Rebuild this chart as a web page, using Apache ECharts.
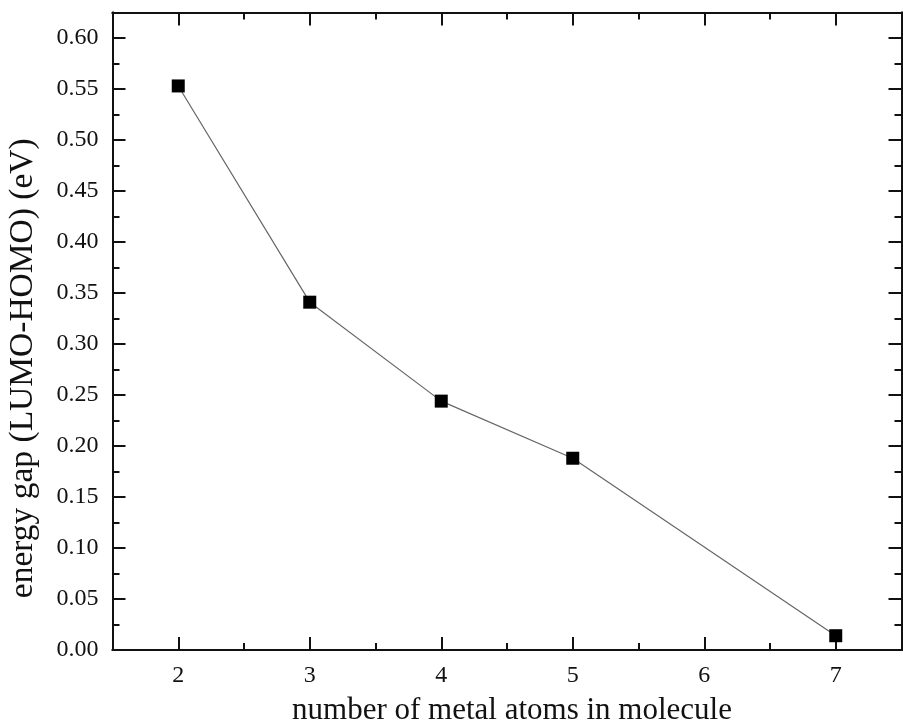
<!DOCTYPE html>
<html>
<head>
<meta charset="utf-8">
<script src="https://cdn.jsdelivr.net/npm/echarts@6/dist/echarts.min.js"></script>
<style>
html,body{margin:0;padding:0;background:#fff;}
#chart{width:903px;height:723px;}
</style>
</head>
<body>
<div id="chart"></div>
<script>
// ---- data ----
const atomCounts = [2, 3, 4, 5, 7];
const energyGaps = [0.553, 0.341, 0.244, 0.188, 0.014];
const xMajorTicks = [2, 3, 4, 5, 6, 7];
const xMinorTicks = [1.5, 2.5, 3.5, 4.5, 5.5, 6.5, 7.5];
const yMajorTicks = [0, 0.05, 0.10, 0.15, 0.20, 0.25, 0.30, 0.35, 0.40, 0.45, 0.50, 0.55, 0.60];
const yMinorTicks = [0.025, 0.075, 0.125, 0.175, 0.225, 0.275, 0.325, 0.375, 0.425, 0.475, 0.525, 0.575, 0.625];
const xTitle = 'number of metal atoms in molecule';
const yTitle = 'energy gap (LUMO-HOMO) (eV)';

const FONT = '"Liberation Serif", "Times New Roman", serif';
const X_MIN = 1.5, X_MAX = 7.5, Y_MIN = 0, Y_MAX = 0.625;

function xAxisDef(position, ticks, len, withLabels, name) {
  return {
    type: 'value', position: position, min: X_MIN, max: X_MAX,
    name: name || '', nameLocation: 'middle', nameGap: 45,
    nameTextStyle: { fontFamily: FONT, fontSize: 31, color: '#111', padding: [0, 0, 0, 10] },
    axisLine: { show: true, onZero: false, lineStyle: { color: '#111', width: 2 } },
    axisTick: { show: true, inside: true, length: len, customValues: ticks, lineStyle: { color: '#111', width: 2 } },
    axisLabel: withLabels ? { show: true, customValues: ticks, fontFamily: FONT, fontSize: 24, color: '#111', margin: 14, formatter: v => String(v) } : { show: false },
    splitLine: { show: false }
  };
}
function yAxisDef(position, ticks, len, withLabels, name) {
  return {
    type: 'value', position: position, min: Y_MIN, max: Y_MAX,
    name: name || '', nameLocation: 'middle', nameGap: 72,
    nameTextStyle: { fontFamily: FONT, fontSize: 33.5, color: '#111', padding: [0, 74, 0, 0] },
    axisLine: { show: true, onZero: false, lineStyle: { color: '#111', width: 2 } },
    axisTick: { show: true, inside: true, length: len, customValues: ticks, lineStyle: { color: '#111', width: 2 } },
    axisLabel: withLabels ? { show: true, customValues: ticks, fontFamily: FONT, fontSize: 24, color: '#111', margin: 14, formatter: v => Number(v).toFixed(2) } : { show: false },
    splitLine: { show: false }
  };
}

const chart = echarts.init(document.getElementById('chart'), null, { renderer: 'canvas' });
chart.setOption({
  animation: false,
  backgroundColor: '#fff',
  grid: { left: 112.5, right: 1.5, top: 12.5, bottom: 73, containLabel: false, outerBoundsMode: 'none' },
  xAxis: [
    xAxisDef('bottom', xMajorTicks, 13, true, xTitle),
    xAxisDef('bottom', xMinorTicks, 7, false),
    xAxisDef('top', xMajorTicks, 13, false),
    xAxisDef('top', xMinorTicks, 7, false)
  ],
  yAxis: [
    yAxisDef('left', yMajorTicks, 13, true, yTitle),
    yAxisDef('left', yMinorTicks, 7, false),
    yAxisDef('right', yMajorTicks, 13, false),
    yAxisDef('right', yMinorTicks, 7, false)
  ],
  series: [{
    type: 'line',
    xAxisIndex: 0, yAxisIndex: 0,
    data: atomCounts.map((x, i) => [x, energyGaps[i]]),
    symbol: 'rect', symbolSize: 13,
    itemStyle: { color: '#000' },
    lineStyle: { color: '#666', width: 1.2 }
  }]
});
</script>
</body>
</html>
